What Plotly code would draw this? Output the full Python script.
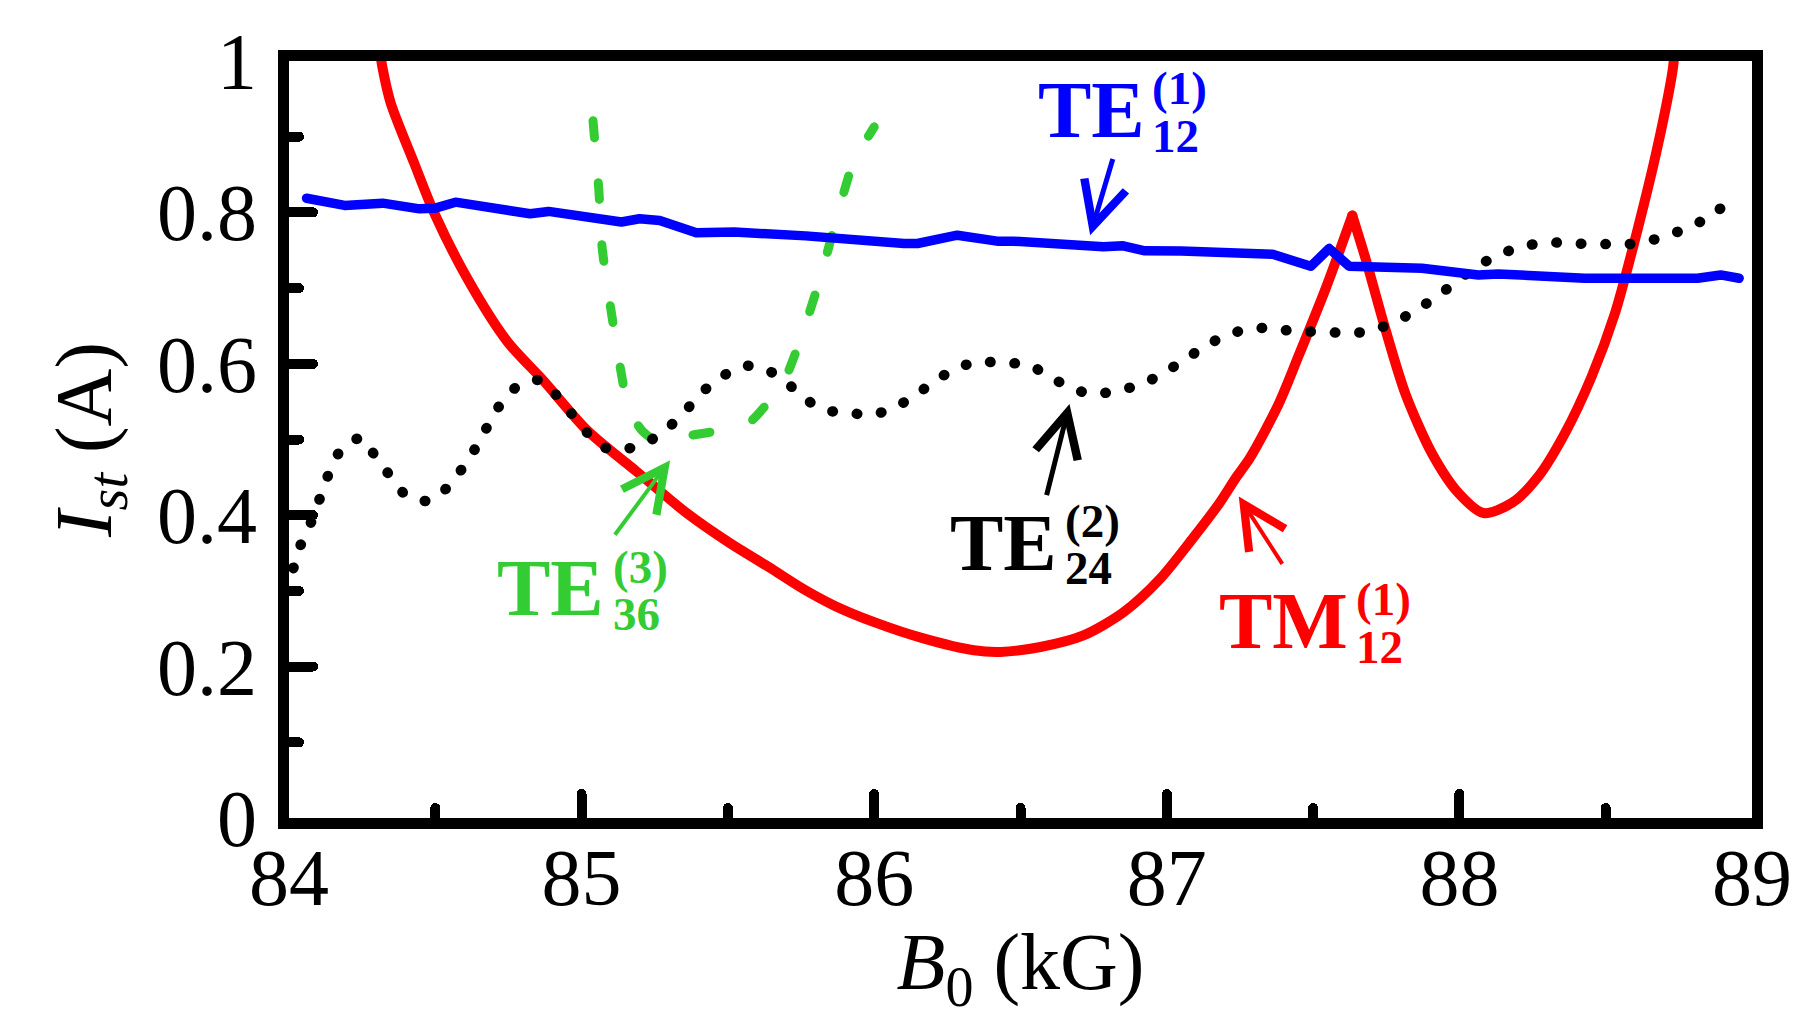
import plotly.graph_objects as go

# ---------------- data ----------------
# TM12(1) (red, solid): left branch up to the sharp peak, then the right branch
b0_tm12 = [84.31, 84.32, 84.3475, 84.427, 84.495, 84.609, 84.745, 84.87, 85.019, 85.189,
           85.359, 85.505, 85.641, 85.758, 85.864, 86.0, 86.171, 86.341, 86.432, 86.568,
           86.715, 86.852, 86.976, 87.09, 87.18, 87.237, 87.283, 87.38, 87.453, 87.5435,
           87.634,
           87.68, 87.7476, 87.8157, 87.9064, 87.9972, 88.0823, 88.1786, 88.2693, 88.36,
           88.4508, 88.5303, 88.6097, 88.6778, 88.7289, 88.735]
ist_tm12 = [1.015, 0.99, 0.9446, 0.8659, 0.8004, 0.713, 0.630, 0.5776, 0.512, 0.4574,
            0.4029, 0.3636, 0.3312, 0.3025, 0.2805, 0.2587, 0.2369, 0.2215, 0.2194, 0.2259,
            0.2412, 0.2718, 0.3155, 0.370, 0.416, 0.450, 0.475, 0.545, 0.613, 0.700,
            0.796,
            0.738, 0.645, 0.5602, 0.4815, 0.4291, 0.4029, 0.416, 0.4509, 0.5078,
            0.5821, 0.665, 0.7785, 0.8878, 0.9882, 1.01]
tm12_peak_index = 30

# TE12(1) (blue, solid)
b0_te12 = [84.06, 84.19, 84.32, 84.446, 84.50, 84.569, 84.824, 84.887, 85.136, 85.198,
           85.267, 85.392, 85.522, 85.766, 86.102, 86.148, 86.284, 86.42, 86.477, 86.693,
           86.783, 86.851, 86.925, 87.05, 87.169, 87.362, 87.492, 87.555, 87.623, 87.759,
           87.872, 88.065, 88.133, 88.428, 88.587, 88.814, 88.893, 88.956]
ist_te12 = [0.8187, 0.8092, 0.8122, 0.8047, 0.8056, 0.8135, 0.7982, 0.8013, 0.7873, 0.7916,
            0.7894, 0.773, 0.774, 0.769, 0.7589, 0.7589, 0.7699, 0.762, 0.762, 0.7545,
            0.7545, 0.7558, 0.7493, 0.749, 0.7468, 0.7446, 0.7288, 0.7523, 0.729, 0.7283,
            0.7261, 0.7174, 0.7187, 0.713, 0.7122, 0.713, 0.7174, 0.713]

# TE24(2) (black, dotted)
b0_te24 = [84.015, 84.038, 84.072, 84.115, 84.143, 84.183, 84.25, 84.299, 84.35, 84.401,
           84.48, 84.546, 84.596, 84.641, 84.68, 84.722, 84.779, 84.856, 84.912, 84.966,
           85.019, 85.082, 85.155, 85.235, 85.301, 85.359, 85.414, 85.479, 85.552, 85.628,
           85.70, 85.76, 85.83, 85.912, 85.993, 86.071, 86.142, 86.209, 86.28, 86.359,
           86.441, 86.522, 86.594, 86.668, 86.746, 86.827, 86.908, 86.981, 87.051, 87.12,
           87.192, 87.271, 87.353, 87.433, 87.514, 87.598, 87.68, 87.759, 87.833, 87.903,
           87.969, 88.037, 88.105, 88.182, 88.262, 88.345, 88.426, 88.508, 88.59, 88.671,
           88.751, 88.826, 88.874, 88.943]
ist_te24 = [0.33, 0.359, 0.3875, 0.4325, 0.4618, 0.4889, 0.502, 0.4749, 0.45, 0.426,
            0.419, 0.4387, 0.464, 0.4911, 0.5186, 0.5461, 0.5697, 0.5785, 0.5593, 0.5339,
            0.509, 0.4889, 0.4877, 0.499, 0.5173, 0.5396, 0.5631, 0.5828, 0.5972, 0.5929,
            0.5755, 0.5548, 0.5392, 0.5353, 0.5327, 0.5427, 0.5589, 0.5777, 0.5938, 0.603,
            0.6004, 0.5996, 0.5843, 0.569, 0.5598, 0.5646, 0.5721, 0.5861, 0.603, 0.6204,
            0.6357, 0.6453, 0.6474, 0.643, 0.6426, 0.6409, 0.6422, 0.6519, 0.6663, 0.6838,
            0.7021, 0.7227, 0.7384, 0.751, 0.7585, 0.7602, 0.7585, 0.7581, 0.7585, 0.7647,
            0.7751, 0.7882, 0.8004, 0.8187]

# TE36(3) (green, dashed)
b0_te36 = [85.039, 85.059, 85.07, 85.098, 85.129, 85.161, 85.206, 85.25, 85.314, 85.376,
           85.507, 85.575, 85.66, 85.70, 85.755, 85.816, 85.87, 85.927, 86.0]
ist_te36 = [0.921, 0.829, 0.754, 0.677, 0.602, 0.540, 0.512, 0.499, 0.497, 0.5055,
            0.514, 0.523, 0.560, 0.584, 0.640, 0.714, 0.790, 0.864, 0.913]

x_major = [84, 85, 86, 87, 88, 89]
x_major_text = ["84", "85", "86", "87", "88", "89"]
x_minor = [84.5, 85.5, 86.5, 87.5, 88.5]
y_major = [0, 0.2, 0.4, 0.6, 0.8, 1.0]
y_major_text = ["0", "0.2", "0.4", "0.6", "0.8", "1"]
y_minor = [0.1, 0.3, 0.5, 0.7, 0.9]

# ---------------- styling / layout ----------------
FONT = "Liberation Serif, Times New Roman, serif"
RED, BLUE, GREEN, BLACK = "#ff0000", "#0000ff", "#33cc33", "#000000"
W, H = 1797, 1018
ML, MR, MT, MB = 289, 45, 61, 200


def px_to_paper(px, py):
    return (px - ML) / (W - ML - MR), ((H - MB) - py) / (H - MB - MT)


fig = go.Figure()
k = tm12_peak_index
fig.add_trace(go.Scatter(x=b0_tm12[:k + 1], y=ist_tm12[:k + 1], mode="lines",
                         line=dict(color=RED, width=10, shape="spline", smoothing=0.8)))
fig.add_trace(go.Scatter(x=b0_tm12[k:], y=ist_tm12[k:], mode="lines",
                         line=dict(color=RED, width=10, shape="spline", smoothing=0.8)))
fig.add_trace(go.Scatter(x=b0_te36, y=ist_te36, mode="lines",
                         line=dict(color=GREEN, width=9, dash="17px,45px",
                                   shape="spline", smoothing=0.6)))
fig.add_trace(go.Scatter(x=b0_te24, y=ist_te24, mode="lines",
                         line=dict(color=BLACK, width=10.5, dash="0.5px,24px",
                                   shape="spline", smoothing=0.8)))
fig.add_trace(go.Scatter(x=b0_te12, y=ist_te12, mode="lines",
                         line=dict(color=BLUE, width=9.5)))

ann = []


def label(main, sup, sub, color, main_px, ss_left, sup_y, sub_y):
    f_big = dict(family=FONT, size=80, color=color)
    f_small = dict(family=FONT, size=47, color=color)
    for txt, (px, py), f in ((main, main_px, f_big),
                             (sup, (ss_left, sup_y), f_small),
                             (sub, (ss_left, sub_y), f_small)):
        xp, yp = px_to_paper(px, py)
        ann.append(dict(text="<b>%s</b>" % txt, x=xp, y=yp, xref="paper", yref="paper",
                        xanchor="left", yanchor="middle", showarrow=False, font=f))


def arrow(color, xh, yh, xt, yt, width, size):
    ann.append(dict(text="", x=xh, y=yh, ax=xt, ay=yt, xref="x", yref="y",
                    axref="x", ayref="y", showarrow=True, arrowhead=5,
                    arrowcolor=color, arrowwidth=width, arrowsize=size, standoff=0))


label("TE", "(1)", "12", BLUE, (1035.5, 110), 1149.5, 88, 135.8)
label("TE", "(3)", "36", GREEN, (494.8, 588.3), 610.5, 567.4, 614)
label("TE", "(2)", "24", BLACK, (948.2, 543), 1063, 521.4, 568.3)
label("TM", "(1)", "12", RED, (1217.2, 620.8), 1354, 599.4, 646.7)

arrow(BLUE, 86.738, 0.7698, 86.817, 0.8725, 5, 1.7)
arrow(BLACK, 86.6675, 0.547, 86.588, 0.4246, 5, 1.7)
arrow(GREEN, 85.3026, 0.4727, 85.11, 0.3722, 4, 2.1)
arrow(RED, 87.246, 0.4246, 87.398, 0.3338, 4, 2.1)

axis_common = dict(showline=True, linewidth=11, linecolor="black", mirror=True,
                   showgrid=False, zeroline=False, ticks="inside", ticklen=24,
                   tickwidth=10, tickcolor="black",
                   tickfont=dict(family=FONT, size=80, color="black"))
minor_common = dict(ticks="inside", ticklen=10, tickwidth=10, tickcolor="black",
                    showgrid=False)

fig.update_layout(
    width=W, height=H,
    margin=dict(l=ML, r=MR, t=MT, b=MB, autoexpand=False),
    paper_bgcolor="white", plot_bgcolor="white",
    showlegend=False,
    annotations=ann,
    xaxis=dict(range=[84, 89], tickvals=x_major, ticktext=x_major_text,
               minor=dict(tickvals=x_minor, **minor_common),
               ticklabelstandoff=-20,
               title=dict(text="<i>B</i><sub>0</sub> (kG)", standoff=45,
                          font=dict(family=FONT, size=80, color="black")),
               **axis_common),
    yaxis=dict(range=[0, 1], tickvals=y_major, ticktext=y_major_text,
               minor=dict(tickvals=y_minor, **minor_common),
               ticklabelstandoff=5,
               title=dict(text="<i>I</i><sub><i>st</i></sub> (A)", standoff=24,
                          font=dict(family=FONT, size=80, color="black")),
               **axis_common),
)

post = """
document.body.style.margin = '0';
document.body.style.overflow = 'hidden';
var gd = document.getElementById('{plot_id}');
gd.querySelectorAll('.scatterlayer .js-line').forEach(function(p){
  p.style.strokeLinecap = 'round'; p.style.strokeLinejoin = 'round';
});
gd.querySelectorAll('path.xtick, path.ytick').forEach(function(p){
  p.style.strokeLinecap = 'round';
});
"""
fig.write_html("out.html", post_script=post, config={"displayModeBar": False})
